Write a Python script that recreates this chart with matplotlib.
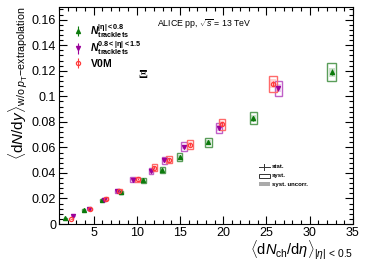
import matplotlib
matplotlib.use("Agg")
import matplotlib.pyplot as plt
from matplotlib.patches import Rectangle
from matplotlib.ticker import MultipleLocator
import numpy as np

plt.rcParams['font.family'] = ['Liberation Sans', 'DejaVu Sans']
plt.rcParams['mathtext.fontset'] = 'custom'
plt.rcParams['mathtext.rm'] = 'Liberation Sans'
plt.rcParams['mathtext.it'] = 'Liberation Sans:italic'
plt.rcParams['mathtext.bf'] = 'Liberation Sans:bold'
plt.rcParams['mathtext.bfit'] = 'Liberation Sans:bold:italic'

# <dNch/deta> and <dN/dy> for the three multiplicity estimators
x_trk08 = [1.75, 3.86, 5.97, 8.16, 10.76, 12.95, 14.95, 18.3, 23.5, 32.55]
y_trk08 = [0.0045, 0.0108, 0.0187, 0.0247, 0.0341, 0.0425, 0.0525, 0.064, 0.0827, 0.119]

x_trk15 = [2.63, 4.43, 6.27, 7.7, 9.54, 11.65, 13.2, 15.45, 19.55, 26.4]
y_trk15 = [0.0063, 0.012, 0.019, 0.0255, 0.0346, 0.0412, 0.0498, 0.0604, 0.0752, 0.1063]

x_v0m = [2.44, 4.63, 6.47, 8.0, 10.1, 12.05, 13.75, 16.15, 19.85, 25.77]
y_v0m = [0.0039, 0.0116, 0.0197, 0.0257, 0.0352, 0.0442, 0.0504, 0.062, 0.078, 0.110]

# relative uncertainties
stat_rel = 0.02
syst_rel = 0.057
uncorr_rel = 0.03
xsyst_rel = 0.01

series = [
    (x_trk08, y_trk08, '#0b7a0b', '#5a9e5a', '^',
     r'$\mathbfit{N}_{\mathbf{tracklets}}^{\mathbf{|\eta|<0.8}}$'),
    (x_trk15, y_trk15, '#9a009a', '#c060c8', 'v',
     r'$\mathbfit{N}_{\mathbf{tracklets}}^{\mathbf{0.8<|\eta|<1.5}}$'),
    (x_v0m, y_v0m, '#ff3b3b', '#ff6a6a', 'o', r'$\mathbf{V0M}$'),
]

fig = plt.figure(figsize=(3.66, 2.67), dpi=100)
ax = fig.add_axes([0.161, 0.161, 0.803, 0.813])

handles = []
for xs, ys, col, lcol, mk, lab in series:
    xs = np.array(xs)
    ys = np.array(ys)
    xe = xsyst_rel * xs + 0.17
    for xi, yi, xw in zip(xs, ys, xe):
        ax.add_patch(Rectangle((xi - xw, yi * (1 - syst_rel)), 2 * xw,
                               2 * syst_rel * yi, fill=False, ec=lcol, lw=1.0))
        ax.add_patch(Rectangle((xi - xw * 0.7, yi * (1 - uncorr_rel)), 1.4 * xw,
                               2 * uncorr_rel * yi, fc=lcol, alpha=0.3, ec='none'))
    mfc = 'none' if mk == 'o' else col
    h = ax.errorbar(xs, ys, yerr=stat_rel * ys, fmt=mk, color=col, mfc=mfc,
                    ms=3, mew=0.9, elinewidth=0.8, capsize=0, label=lab)
    handles.append(h)

ax.set_xlim(1, 35)
ax.set_ylim(0, 0.17)
ax.xaxis.set_major_locator(MultipleLocator(5))
ax.xaxis.set_minor_locator(MultipleLocator(1))
ax.yaxis.set_minor_locator(MultipleLocator(0.004))
ax.set_yticks([0, 0.02, 0.04, 0.06, 0.08, 0.1, 0.12, 0.14, 0.16])
ax.set_yticklabels(['0', '0.02', '0.04', '0.06', '0.08', '0.1', '0.12', '0.14', '0.16'])
ax.tick_params(which='both', direction='in', top=True, right=True,
               labelsize=9, width=0.8, pad=2)
ax.tick_params(which='major', length=6)
ax.tick_params(which='minor', length=3)
for sp in ax.spines.values():
    sp.set_linewidth(0.8)

ax.set_xlabel(r'$\langle \mathrm{d}N_{\mathrm{ch}}/\mathrm{d}\eta\rangle_{|\eta|\,<\,0.5}$',
              fontsize=10.5, loc='right', labelpad=0)
ax.set_ylabel(r'$\langle \mathrm{d}N/\mathrm{d}y\rangle_{\mathrm{w/o}\ p_{\mathrm{T}}\mathrm{-extrapolation}}$',
              fontsize=11, loc='top', labelpad=1)

ax.text(0.333, 0.955, r'ALICE pp, $\sqrt{s}$ = 13 TeV', transform=ax.transAxes,
        fontsize=6.3, va='top')
ax.text(10.7, 0.117, 'Ξ', fontsize=9.5, fontweight='bold', ha='center', va='center',
        family=['Liberation Serif', 'DejaVu Serif'])

leg = ax.legend(handles=handles, loc='upper left', bbox_to_anchor=(0.012, 0.975),
                frameon=False, fontsize=7.5, handlelength=1.2, labelspacing=-0.05,
                handletextpad=0.5)

# uncertainty key
kx, ky = 0.68, 0.263
ax.plot([kx, kx + 0.037], [ky, ky], transform=ax.transAxes, color='#333333', lw=0.7)
ax.plot([kx + 0.0185] * 2, [ky - 0.015, ky + 0.015], transform=ax.transAxes,
        color='#333333', lw=0.7)
ax.add_patch(Rectangle((kx, ky - 0.051), 0.037, 0.02, transform=ax.transAxes,
                       fill=False, ec='#333333', lw=0.7))
ax.add_patch(Rectangle((kx, ky - 0.089), 0.037, 0.02, transform=ax.transAxes,
                       fc='#aaaaaa', ec='none'))
for dy, t in [(0, 'stat.'), (0.041, 'syst.'), (0.079, 'syst. uncorr.')]:
    ax.text(kx + 0.045, ky - dy, t, transform=ax.transAxes, fontsize=4.3,
            fontweight='bold', va='center')

fig.savefig('out.png', dpi=100)
